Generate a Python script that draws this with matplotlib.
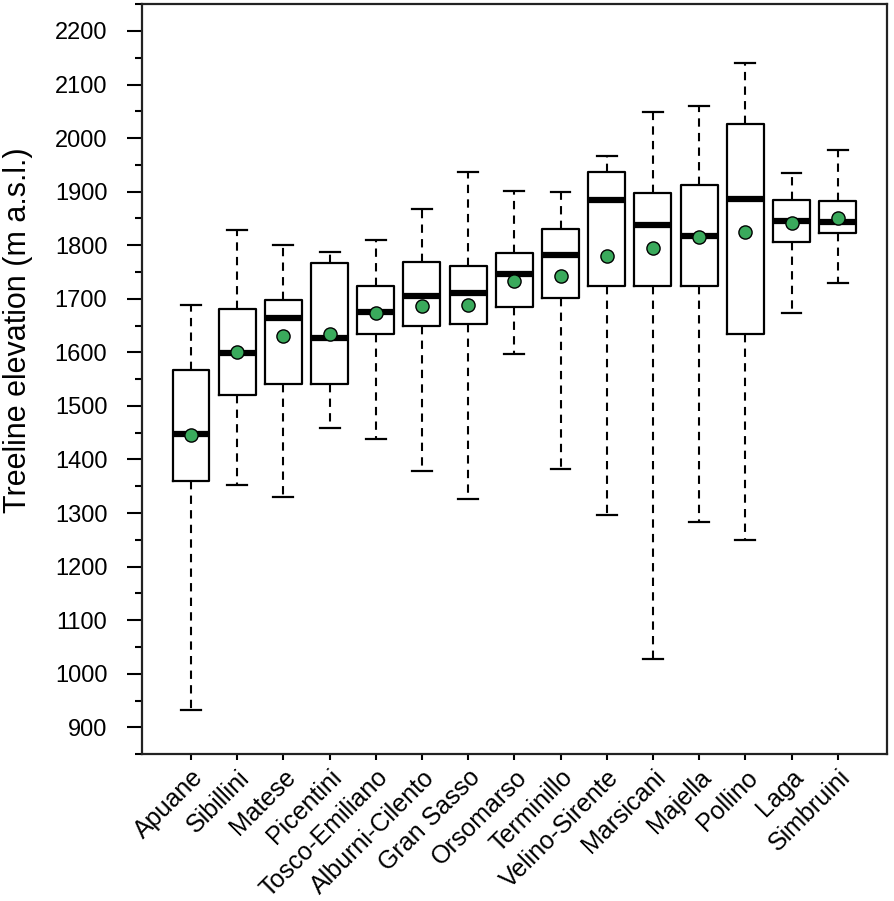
import matplotlib
matplotlib.use("Agg")
import matplotlib.pyplot as plt
from matplotlib.ticker import MultipleLocator

plt.rcParams['font.family'] = ['Liberation Sans', 'DejaVu Sans']

# Mountain ranges and boxplot statistics (m a.s.l.)
ranges = ['Apuane', 'Sibillini', 'Matese', 'Picentini', 'Tosco-Emiliano',
          'Alburni-Cilento', 'Gran Sasso', 'Orsomarso', 'Terminillo',
          'Velino-Sirente', 'Marsicani', 'Majella', 'Pollino', 'Laga', 'Simbruini']
whisk_low = [932, 1352, 1330, 1458, 1439, 1378, 1327, 1596, 1383, 1296, 1027, 1284, 1250, 1674, 1730]
q1 = [1359, 1520, 1541, 1540, 1635, 1649, 1652, 1684, 1702, 1723, 1723, 1723, 1635, 1806, 1823]
medians = [1447, 1599, 1664, 1627, 1675, 1705, 1710, 1746, 1781, 1884, 1838, 1817, 1887, 1846, 1843]
q3 = [1567, 1681, 1697, 1766, 1723, 1769, 1761, 1786, 1830, 1936, 1898, 1912, 2026, 1884, 1882]
whisk_high = [1688, 1828, 1800, 1787, 1810, 1868, 1936, 1902, 1899, 1966, 2049, 2060, 2140, 1934, 1977]
means = [1445, 1601, 1630, 1634, 1673, 1687, 1688, 1734, 1742, 1779, 1794, 1816, 1825, 1842, 1850]

stats = []
for i, name in enumerate(ranges):
    stats.append(dict(label=name, whislo=whisk_low[i], q1=q1[i], med=medians[i],
                      q3=q3[i], whishi=whisk_high[i], mean=means[i], fliers=[]))

fig = plt.figure(figsize=(8.95, 9.01), dpi=100)
ax = fig.add_axes([0.1587, 0.163, 0.832, 0.8324])

positions = list(range(1, len(ranges) + 1))
ax.bxp(stats, positions=positions, widths=0.8, showmeans=True, showfliers=False,
       patch_artist=False, capwidths=0.43,
       boxprops=dict(color='black', linewidth=1.6),
       whiskerprops=dict(color='black', linewidth=1.5, linestyle=(0, (4, 3))),
       capprops=dict(color='black', linewidth=1.6),
       medianprops=dict(color='black', linewidth=4.5, solid_capstyle='butt'),
       meanprops=dict(marker='o', markerfacecolor='#3aaa5c', markeredgecolor='black',
                      markeredgewidth=1.0, markersize=9.5))

ax.set_xlim(-0.06, 16.06)
ax.set_ylim(850, 2250)
ax.set_yticks(range(900, 2201, 100))
ax.yaxis.set_minor_locator(MultipleLocator(50))
ax.set_xticks(positions)
ax.set_xticklabels(ranges, rotation=45, ha='right', rotation_mode='anchor', fontsize=18)
ax.tick_params(axis='y', which='major', labelsize=17, length=11, width=1.5,
               direction='out', pad=14)
ax.tick_params(axis='y', which='minor', length=5, width=1.5, direction='out')
ax.tick_params(axis='x', length=4, width=1.5, direction='out', pad=4)
ax.set_ylabel('Treeline elevation (m a.s.l.)', fontsize=22)
ax.yaxis.set_label_coords(-0.147, 0.565)

for s in ax.spines.values():
    s.set_linewidth(1.6)
    s.set_color('#222222')

fig.savefig('out.png', dpi=100)
